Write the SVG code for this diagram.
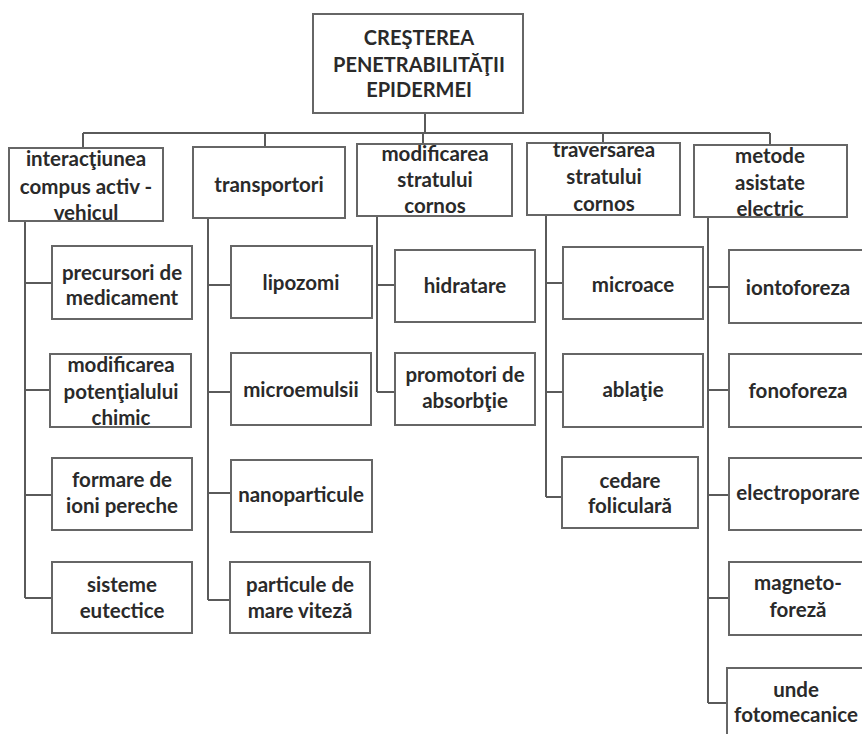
<svg xmlns="http://www.w3.org/2000/svg" width="862" height="734" viewBox="0 0 862 734">
<style>
.box{fill:#fff;stroke:#666;stroke-width:2}
.t{font-family:Lato,"Open Sans","DejaVu Sans",sans-serif;font-weight:bold;font-size:20.5px;fill:#2a2a2a;text-anchor:middle}
.r{font-size:20px}
.c{fill:none;stroke:#5a5a5a;stroke-width:2}
</style>
<rect width="862" height="734" fill="#fff"/>
<g id="connectors">
<path class="c" d="M425 113V133M83 133H770M83 133V148M265 133V147M423 133V144M603 133V143M770 133V145"/>
<path class="c" d="M25 221V598M25 283H52M25 390H50M25 495H52M25 598H52"/>
<path class="c" d="M208 218V600M208 285H231M208 392H231M208 493H231M208 600H230"/>
<path class="c" d="M377 216V392M377 285H395M377 392H395"/>
<path class="c" d="M546 215V497M546 283H563M546 392H563M546 497H562"/>
<path class="c" d="M708 217V703M708 287H729M708 390H729M708 495H729M708 598H729M708 703H727"/>
</g>
<g id="root"><rect class="box" x="313" y="14" width="210" height="99"/>
<text class="t r" x="419" y="45">CREŞTEREA</text><text class="t r" x="419" y="72">PENETRABILITĂŢII</text><text class="t r" x="419" y="97">EPIDERMEI</text></g>
<g id="n1"><rect class="box" x="9" y="148" width="154" height="73"/>
<text class="t" x="86" y="166">interacţiunea</text><text class="t" x="86" y="194">compus activ -</text><text class="t" x="86" y="220">vehicul</text></g>
<g id="n2"><rect class="box" x="193" y="147" width="152" height="71"/>
<text class="t" x="269" y="192">transportori</text></g>
<g id="n3"><rect class="box" x="357" y="144" width="155" height="72"/>
<text class="t" x="435" y="161">modificarea</text><text class="t" x="435" y="187">stratului</text><text class="t" x="435" y="213">cornos</text></g>
<g id="n4"><rect class="box" x="527" y="143" width="153" height="72"/>
<text class="t" x="604" y="157">traversarea</text><text class="t" x="604" y="184">stratului</text><text class="t" x="604" y="211">cornos</text></g>
<g id="n5"><rect class="box" x="694" y="145" width="153" height="72"/>
<text class="t" x="770" y="163">metode</text><text class="t" x="770" y="190">asistate</text><text class="t" x="770" y="216">electric</text></g>
<g id="n1a"><rect class="box" x="52" y="246" width="140" height="73"/>
<text class="t" x="122" y="280">precursori de</text><text class="t" x="122" y="305">medicament</text></g>
<g id="n1b"><rect class="box" x="50" y="354" width="141" height="73"/>
<text class="t" x="121" y="372">modificarea</text><text class="t" x="121" y="399">potenţialului</text><text class="t" x="121" y="425">chimic</text></g>
<g id="n1c"><rect class="box" x="52" y="458" width="140" height="72"/>
<text class="t" x="122" y="487">formare de</text><text class="t" x="122" y="513">ioni pereche</text></g>
<g id="n1d"><rect class="box" x="52" y="562" width="140" height="71"/>
<text class="t" x="122" y="592">sisteme</text><text class="t" x="122" y="618">eutectice</text></g>
<g id="n2a"><rect class="box" x="231" y="246" width="141" height="72"/>
<text class="t" x="301" y="290">lipozomi</text></g>
<g id="n2b"><rect class="box" x="231" y="353" width="140" height="72"/>
<text class="t" x="301" y="397">microemulsii</text></g>
<g id="n2c"><rect class="box" x="231" y="460" width="141" height="72"/>
<text class="t" x="301" y="502">nanoparticule</text></g>
<g id="n2d"><rect class="box" x="230" y="562" width="140" height="71"/>
<text class="t" x="300" y="592">particule de</text><text class="t" x="300" y="618">mare viteză</text></g>
<g id="n3a"><rect class="box" x="395" y="250" width="140" height="72"/>
<text class="t" x="465" y="293">hidratare</text></g>
<g id="n3b"><rect class="box" x="395" y="353" width="140" height="72"/>
<text class="t" x="465" y="382">promotori de</text><text class="t" x="465" y="408">absorbţie</text></g>
<g id="n4a"><rect class="box" x="563" y="247" width="140" height="72"/>
<text class="t" x="633" y="292">microace</text></g>
<g id="n4b"><rect class="box" x="563" y="354" width="140" height="73"/>
<text class="t" x="633" y="397">ablaţie</text></g>
<g id="n4c"><rect class="box" x="562" y="457" width="136" height="71"/>
<text class="t" x="630" y="488">cedare</text><text class="t" x="630" y="513">foliculară</text></g>
<g id="n5a"><rect class="box" x="729" y="250" width="141" height="73"/>
<text class="t" x="798" y="295">iontoforeza</text></g>
<g id="n5b"><rect class="box" x="729" y="354" width="141" height="73"/>
<text class="t" x="798" y="398">fonoforeza</text></g>
<g id="n5c"><rect class="box" x="729" y="458" width="141" height="72"/>
<text class="t" x="798" y="500">electroporare</text></g>
<g id="n5d"><rect class="box" x="729" y="562" width="141" height="73"/>
<text class="t" x="798" y="590">magneto-</text><text class="t" x="798" y="617">foreză</text></g>
<g id="n5e"><rect class="box" x="727" y="668" width="143" height="80"/>
<text class="t" x="796" y="697">unde</text><text class="t" x="796" y="722">fotomecanice</text></g>
</svg>
